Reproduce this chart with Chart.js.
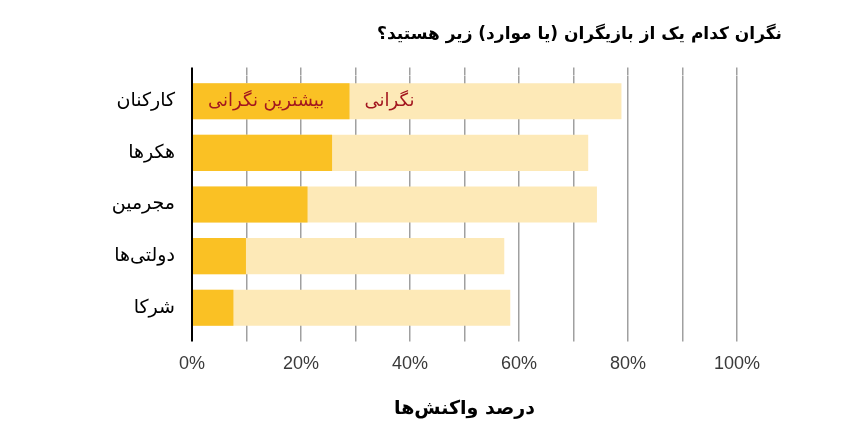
<!DOCTYPE html>
<html><head><meta charset="utf-8">
<script src="https://cdn.jsdelivr.net/npm/chart.js@4/dist/chart.umd.min.js"></script>
<style>html,body{margin:0;padding:0;background:#fff;} canvas{direction:rtl;display:block;}</style>
</head><body>
<canvas id="c" width="841" height="432"></canvas>
<script>
const categories = ['کارکنان', 'هکرها', 'مجرمین', 'دولتی‌ها', 'شرکا'];
const mostConcern = [28.9, 25.7, 21.2, 9.9, 7.6];
const concern = [78.8, 72.7, 74.3, 57.3, 58.4];
const seriesNames = ['بیشترین نگرانی', 'نگرانی'];
const xTickLabels = [0, 20, 40, 60, 80, 100];
const titleText = 'نگران کدام یک از بازیگران (یا موارد) زیر هستید؟';
const xTitleText = 'درصد واکنش‌ها';

const persianFont = '"DejaVu Sans", sans-serif';

const barLabels = {
  id: 'barLabels',
  afterDatasetsDraw(chart) {
    const ctx = chart.ctx;
    const a = chart.getDatasetMeta(0).data[0];
    ctx.save();
    ctx.font = '18px ' + persianFont;
    ctx.fillStyle = '#a3161f';
    ctx.textAlign = 'left';
    ctx.textBaseline = 'middle';
    ctx.fillText(seriesNames[0], a.base + 15, a.y);
    ctx.fillText(seriesNames[1], a.x + 15, a.y);
    ctx.restore();
  }
};

const gridColor = c => (c.tick && c.tick.value === 0) ? '#000' : '#a0a0a0';
const gridWidth = c => (c.tick && c.tick.value === 0) ? 2 : 1.5;

new Chart(document.getElementById('c'), {
  type: 'bar',
  data: {
    labels: categories,
    datasets: [
      { label: seriesNames[0], data: mostConcern, backgroundColor: '#fac124', grouped: false,
        barPercentage: 0.7, categoryPercentage: 1 },
      { label: seriesNames[1], data: concern, backgroundColor: '#fde9b7', grouped: false,
        barPercentage: 0.7, categoryPercentage: 1 }
    ]
  },
  options: {
    indexAxis: 'y',
    responsive: false,
    animation: false,
    devicePixelRatio: 1,
    layout: { padding: { top: 24, right: 59, bottom: 0, left: 0 } },
    plugins: {
      legend: { display: false },
      tooltip: { enabled: false },
      title: {
        display: true, text: titleText, align: 'end', color: '#000',
        font: { family: persianFont, size: 17, weight: 'bold', lineHeight: 1.2 },
        padding: { top: 0, bottom: 23 }
      }
    },
    scales: {
      x: {
        type: 'linear', position: 'bottom', min: 0, max: 100,
        grid: { color: gridColor, lineWidth: gridWidth, drawTicks: true, tickLength: 8 },
        border: { display: false },
        ticks: { stepSize: 10, padding: 11.5, color: '#3a3a3a',
          font: { family: '"Liberation Sans", Arial, sans-serif', size: 18 },
          callback: v => xTickLabels.includes(v) ? v + '%' : '' },
        title: { display: true, text: xTitleText, color: '#000',
          font: { family: persianFont, size: 19, weight: 'bold', lineHeight: 1.2 },
          padding: { top: 11, bottom: 12 } }
      },
      xTop: {
        type: 'linear', position: 'top', min: 0, max: 100, axis: 'x',
        grid: { color: gridColor, lineWidth: gridWidth, drawOnChartArea: false, drawTicks: true, tickLength: 8 },
        border: { display: false },
        ticks: { display: false, stepSize: 10 }
      },
      y: {
        type: 'category', position: 'left', z: 1,
        grid: { display: false, drawTicks: false },
        border: { display: true, color: '#000', width: 2 },
        ticks: { padding: 17, color: '#000', font: { family: persianFont, size: 19 } },
        afterFit(s) { s.width = 192; }
      },
      yRight: {
        type: 'linear', position: 'right', axis: 'y', display: true,
        grid: { display: false, drawTicks: false },
        border: { display: false },
        ticks: { display: false },
        afterFit(s) { s.width = 45; }
      }
    }
  },
  plugins: [barLabels]
});
</script>
</body></html>
